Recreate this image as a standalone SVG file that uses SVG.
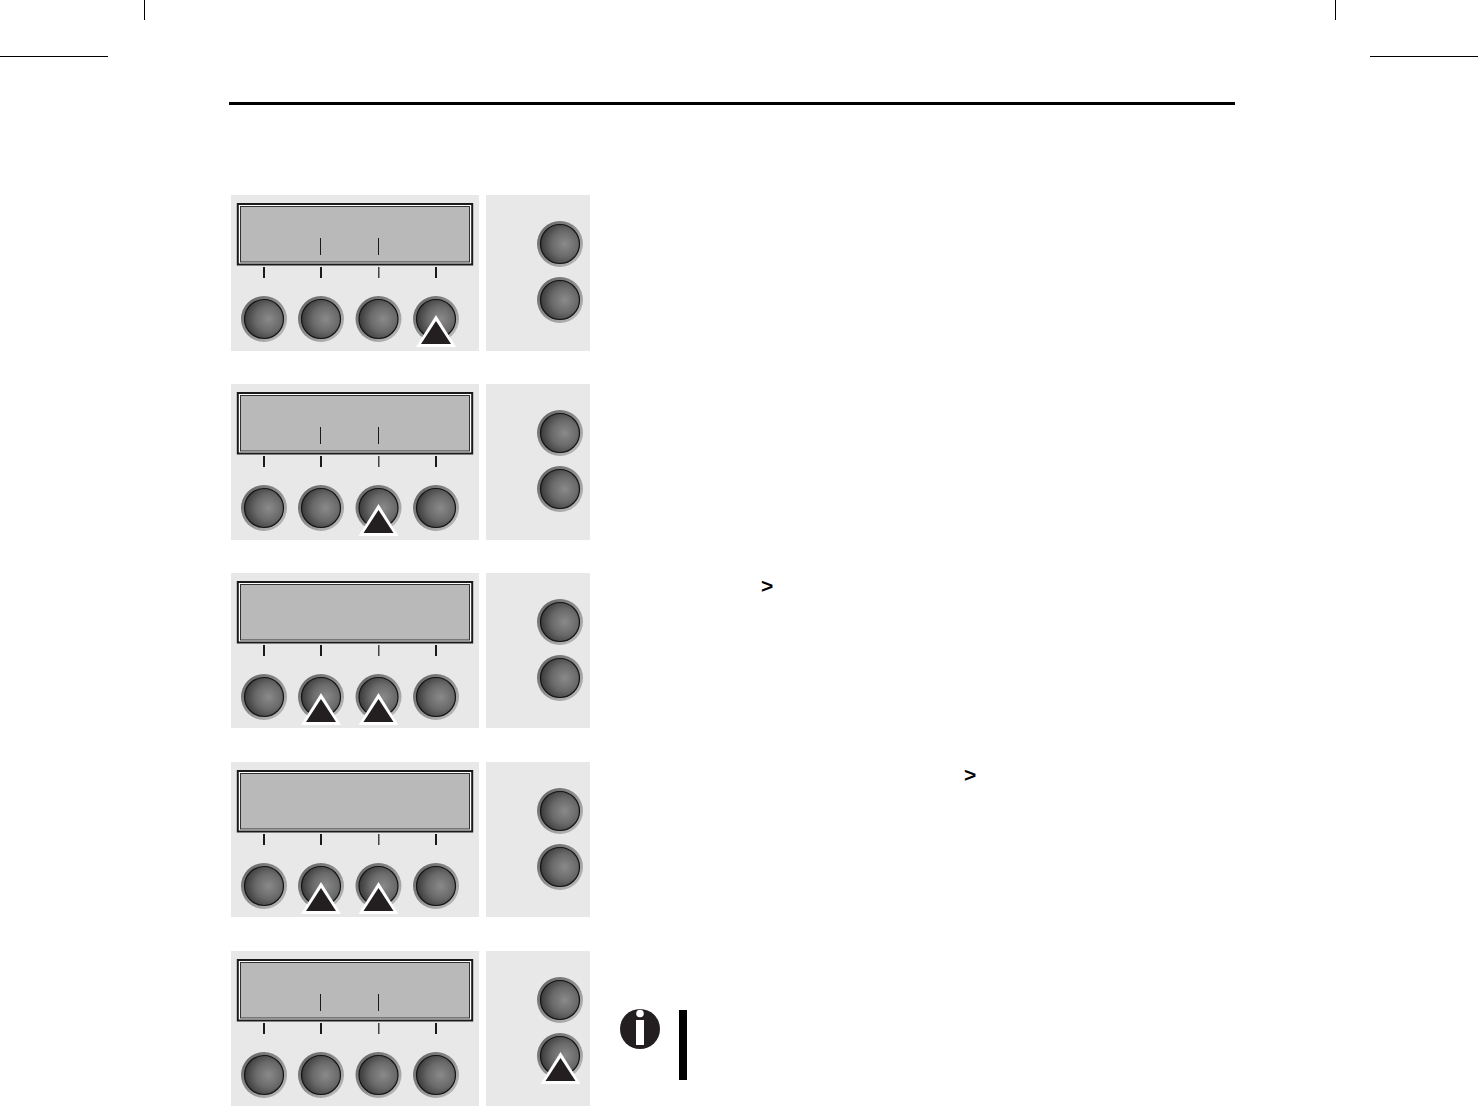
<svg xmlns="http://www.w3.org/2000/svg" width="1478" height="1106" viewBox="0 0 1478 1106">
<style>
.panel{fill:#e8e8e8}
.crop{stroke:#000;stroke-width:1;fill:none}
.tick{stroke:#1a1a1a;fill:none}
.arrow-out{fill:#fff}
.arrow-in{fill:#231f20}
.gt{font-family:"Liberation Sans",Arial,sans-serif;font-weight:700;font-size:21px;fill:#000}
</style>
<defs>
<radialGradient id="bg" cx="0.62" cy="0.5" r="0.66">
<stop offset="0" stop-color="#8a8a8a"/><stop offset="0.5" stop-color="#6a6a6a"/><stop offset="1" stop-color="#333"/>
</radialGradient>
<linearGradient id="ring" x1="0" y1="0" x2="1" y2="1">
<stop offset="0" stop-color="#5e5e5e"/><stop offset="0.5" stop-color="#8f8f8f"/><stop offset="1" stop-color="#c4c4c4"/>
</linearGradient>
<g id="btn">
<circle r="23" fill="url(#ring)"/>
<circle r="19.500" fill="url(#bg)" stroke="#141414" stroke-width="1.200"/>
</g>
<g id="tri">
<polygon class="arrow-out" points="0,-4 20,28 -20,28"/>
<polygon class="arrow-in" points="0,2 15,25 -15,25"/>
</g>
<g id="panel">
<rect x="237.800" y="204" width="234.400" height="60.500" fill="#fff" stroke="#1a1a1a" stroke-width="2"/>
<rect x="240.500" y="206.500" width="229" height="55.500" fill="#b9b9b9" stroke="#333" stroke-width="1"/>
<path class="tick" stroke-width="2" d="M264 267V278M321 267V278M436 267V278"/>
<path class="tick" stroke-width="1.200" d="M378.800 267V278"/>
<use href="#btn" x="264" y="319"/>
<use href="#btn" x="321" y="319"/>
<use href="#btn" x="378.500" y="319"/>
<use href="#btn" x="436" y="319"/>
<use href="#btn" x="560" y="244"/>
<use href="#btn" x="560" y="300"/>
</g>
<path id="dticks" class="tick" stroke-width="1" d="M320.500 238V255M378.500 238V255"/>
</defs>
<rect width="1478" height="1106" fill="#fff"/>
<g id="page-marks">
<path class="crop" d="M144.500 0V20M1335.500 0V20M0 56.500H108M1370 56.500H1478"/>
<rect x="229" y="102" width="1006" height="3" fill="#000"/>
</g>
<g id="panel-1">
<rect class="panel" x="231" y="195" width="248" height="156"/>
<rect class="panel" x="486" y="195" width="104" height="156"/>
<use href="#panel"/><use href="#dticks"/>
<use href="#tri" x="436" y="319"/>
</g>
<g id="panel-2" transform="translate(0 189)">
<rect class="panel" x="231" y="195" width="248" height="156"/>
<rect class="panel" x="486" y="195" width="104" height="156"/>
<use href="#panel"/><use href="#dticks"/>
<use href="#tri" x="378.500" y="319"/>
</g>
<g id="panel-3" transform="translate(0 378)">
<rect class="panel" x="231" y="195" width="248" height="155"/>
<rect class="panel" x="486" y="195" width="104" height="155"/>
<use href="#panel"/>
<use href="#tri" x="321" y="319"/>
<use href="#tri" x="378.500" y="319"/>
</g>
<g id="panel-4" transform="translate(0 567)">
<rect class="panel" x="231" y="195" width="248" height="155"/>
<rect class="panel" x="486" y="195" width="104" height="155"/>
<use href="#panel"/>
<use href="#tri" x="321" y="319"/>
<use href="#tri" x="378.500" y="319"/>
</g>
<g id="panel-5" transform="translate(0 756)">
<rect class="panel" x="231" y="195" width="248" height="155"/>
<rect class="panel" x="486" y="195" width="104" height="155"/>
<use href="#panel"/><use href="#dticks"/>
<use href="#tri" x="560.500" y="300"/>
</g>
<g id="text-marks">
<text class="gt" x="761" y="593">&gt;</text>
<text class="gt" x="964" y="782">&gt;</text>
</g>
<g id="info-note">
<circle cx="640" cy="1029" r="20" fill="#231f20"/>
<circle cx="640" cy="1013.500" r="3.800" fill="#fff"/>
<rect x="636" y="1020" width="8" height="25" fill="#fff"/>
<rect x="679" y="1010" width="8" height="70" fill="#000"/>
</g>
</svg>
